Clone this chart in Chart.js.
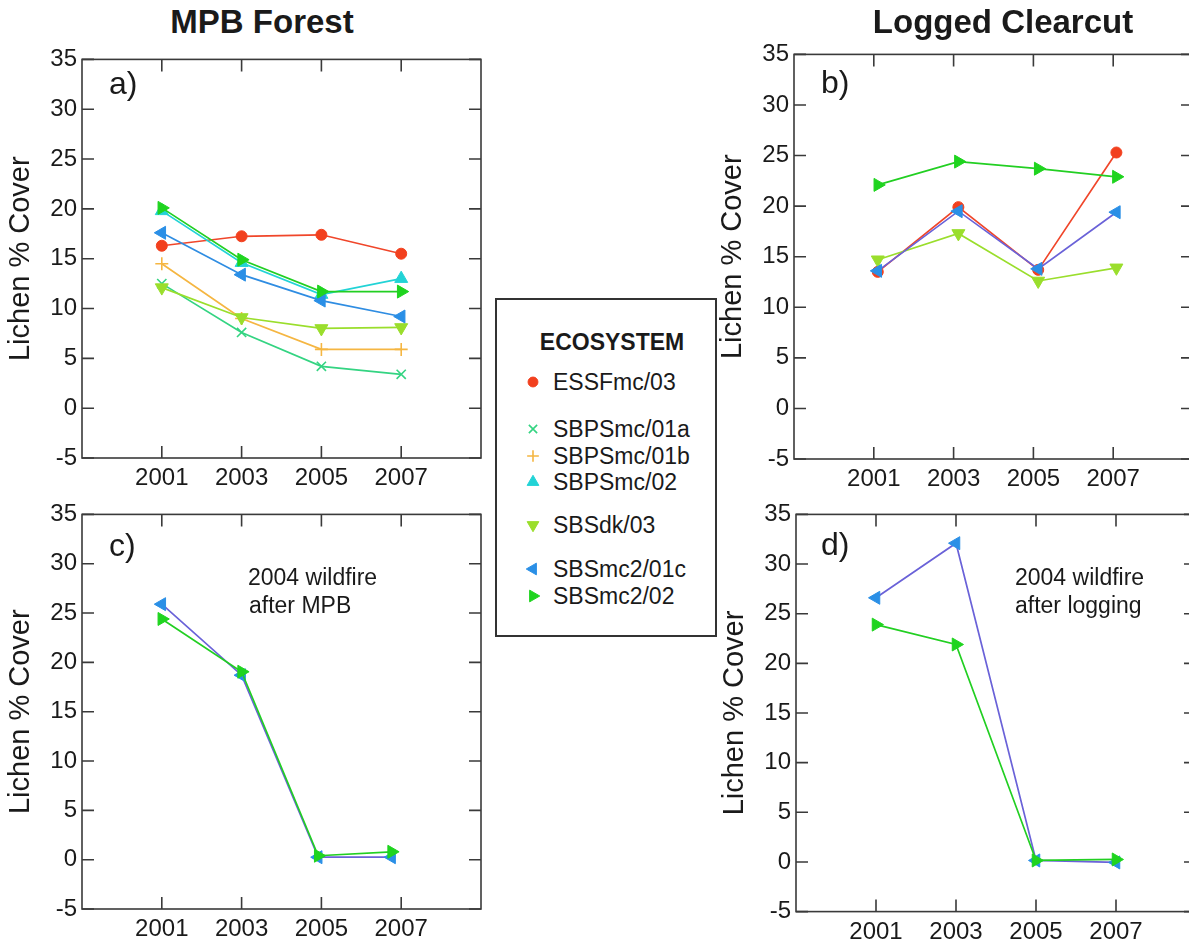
<!DOCTYPE html>
<html>
<head>
<meta charset="utf-8">
<script src="https://cdn.jsdelivr.net/npm/chart.js@4.4.1/dist/chart.umd.min.js"></script>
<style>
html,body{margin:0;padding:0;background:#fff;overflow:hidden;width:1189px;height:947px;}
body{position:relative;font-family:"Liberation Sans",Arial,Helvetica,sans-serif;color:#1a1a1a;}
canvas{position:absolute;}
.t{position:absolute;white-space:nowrap;line-height:1;}
#legend{position:absolute;left:495px;top:298px;width:218px;height:335px;border:2px solid #333;background:#fff;}
</style>
</head>
<body>
<canvas id="cA" width="500" height="470" style="left:0;top:40px"></canvas>
<canvas id="cB" width="500" height="475" style="left:712px;top:35px"></canvas>
<canvas id="cC" width="500" height="452" style="left:0;top:495px"></canvas>
<canvas id="cD" width="500" height="452" style="left:714px;top:495px"></canvas>
<div id="legend"></div>
<script>
// ---------------- DATA ----------------
const tickYears = [2001, 2003, 2005, 2007];
const yTickStep = 5;
const yMin = -5, yMax = 35;

// Panel a) MPB Forest
const yearsA = [2001, 2003, 2005, 2007];
const a_ESSFmc03   = [16.3, 17.25, 17.4, 15.5];
const a_SBPSmc01a  = [12.5, 7.6, 4.2, 3.4];
const a_SBPSmc01b  = [14.5, 9.0, 5.9, 5.9];
const a_SBPSmc02   = [19.8, 14.6, 11.4, 13.0];
const a_SBSdk03    = [12.1, 9.1, 8.0, 8.1];
const a_SBSmc201c  = [17.6, 13.4, 10.8, 9.2];
const a_SBSmc202   = [20.1, 14.9, 11.7, 11.7];

// Panel b) Logged Clearcut
const yearsB = [2001.1, 2003.12, 2005.12, 2007.08];
const b_ESSFmc03   = [13.5, 19.9, 13.7, 25.3];
const b_SBSdk03    = [14.7, 17.3, 12.6, 13.9];
const b_SBSmc201c  = [13.6, 19.5, 13.8, 19.4];
const b_SBSmc202   = [22.1, 24.4, 23.7, 22.9];

// Panel c) 2004 wildfire after MPB
const yearsC = [2001, 2003, 2004.92, 2006.76];
const c_SBSmc201c  = [25.9, 18.7, 0.25, 0.25];
const c_SBSmc202   = [24.4, 19.05, 0.4, 0.8];

// Panel d) 2004 wildfire after logging
const yearsD = [2001, 2003, 2005, 2007];
const d_SBSmc201c  = [26.6, 32.1, 0.15, -0.05];
const d_SBSmc202   = [23.9, 21.9, 0.15, 0.25];

const legendNames = ['ESSFmc/03','SBPSmc/01a','SBPSmc/01b','SBPSmc/02','SBSdk/03','SBSmc2/01c','SBSmc2/02'];

// ---------------- STYLES ----------------
const FONT = '"Liberation Sans", Arial, Helvetica, sans-serif';
const styles = {
  'ESSFmc/03':  {color:'#f2401e', line:'#f0462a', ps:'circle',   rot:0,   r:5.5, bw:1},
  'SBPSmc/01a': {color:'#34d482', line:'#34d482', ps:'crossRot', rot:0,   r:6.5, bw:1.6},
  'SBPSmc/01b': {color:'#f5b642', line:'#f5b642', ps:'cross',    rot:0,   r:6.5, bw:1.6},
  'SBPSmc/02':  {color:'#22d3d6', line:'#22d3d6', ps:'triangle', rot:0,   r:7.5, bw:1},
  'SBSdk/03':   {color:'#9ade2c', line:'#9ade2c', ps:'triangle', rot:180, r:7.5, bw:1},
  'SBSmc2/01c': {color:'#2a8fe6', line:'#2f8de2', ps:'triangle', rot:270, r:7.5, bw:1},
  'SBSmc2/02':  {color:'#1fd41f', line:'#22cf22', ps:'triangle', rot:90,  r:7.5, bw:1}
};

function ds(name, xs, ys, lineOverride) {
  const s = styles[name];
  const idx = legendNames.indexOf(name);
  return {
    label: name,
    data: xs.map((x, i) => ({x: x, y: ys[i]})),
    borderColor: lineOverride || s.line,
    backgroundColor: s.color,
    borderWidth: 1.7,
    pointStyle: s.ps,
    pointRotation: s.rot,
    pointRadius: s.r,
    pointBorderWidth: s.bw,
    pointBorderColor: s.color,
    pointBackgroundColor: s.color,
    tension: 0,
    fill: false,
    order: legendNames.length - idx
  };
}

const frameTicks = {
  id: 'frameTicks',
  beforeDatasetsDraw(chart) {
    const {ctx, chartArea: a, scales} = chart;
    const L = 12;
    ctx.save();
    ctx.strokeStyle = '#3a3a3a';
    ctx.lineWidth = 1.6;
    ctx.strokeRect(a.left, a.top, a.right - a.left, a.bottom - a.top);
    ctx.beginPath();
    scales.y.ticks.forEach(t => {
      const py = scales.y.getPixelForValue(t.value);
      ctx.moveTo(a.left, py); ctx.lineTo(a.left + L, py);
      ctx.moveTo(a.right, py); ctx.lineTo(a.right - L, py);
    });
    scales.x.ticks.forEach(t => {
      const px = scales.x.getPixelForValue(t.value);
      ctx.moveTo(px, a.top); ctx.lineTo(px, a.top + L);
      ctx.moveTo(px, a.bottom); ctx.lineTo(px, a.bottom - L);
    });
    ctx.stroke();
    ctx.restore();
  }
};

function makeChart(id, datasets, cfg) {
  return new Chart(document.getElementById(id), {
    type: 'line',
    data: {datasets: datasets},
    options: {
      responsive: false,
      animation: false,
      devicePixelRatio: 1,
      layout: {padding: {top: cfg.padTop, right: cfg.padRight, left: 0, bottom: 0}},
      plugins: {legend: {display: false}, tooltip: {enabled: false}},
      scales: {
        x: {
          type: 'linear', min: 1999, max: 2009,
          afterBuildTicks: s => { s.ticks = tickYears.map(v => ({value: v})); },
          afterFit: s => { s.height = cfg.xH; },
          grid: {display: false, drawTicks: false, tickLength: 0},
          border: {display: false},
          ticks: {autoSkip: false, maxRotation: 0, padding: 6, color: '#1a1a1a',
                  font: {size: 24, family: FONT}, callback: v => String(v)}
        },
        y: {
          min: yMin, max: yMax,
          afterFit: s => { s.width = cfg.yW; },
          grid: {display: false, drawTicks: false, tickLength: 0},
          border: {display: false},
          ticks: {stepSize: yTickStep, padding: 5, color: '#1a1a1a', font: {size: 24, family: FONT}},
          title: {display: true, text: 'Lichen % Cover', color: '#1a1a1a',
                  font: {size: 29, family: FONT}, padding: {top: 4, bottom: 0}}
        }
      }
    },
    plugins: [frameTicks]
  });
}

const purple = '#6a62d8';

makeChart('cA', [
  ds('ESSFmc/03', yearsA, a_ESSFmc03),
  ds('SBPSmc/01a', yearsA, a_SBPSmc01a),
  ds('SBPSmc/01b', yearsA, a_SBPSmc01b),
  ds('SBPSmc/02', yearsA, a_SBPSmc02),
  ds('SBSdk/03', yearsA, a_SBSdk03),
  ds('SBSmc2/01c', yearsA, a_SBSmc201c),
  ds('SBSmc2/02', yearsA, a_SBSmc202)
], {padTop: 18, padRight: 19, yW: 82, xH: 52});

makeChart('cB', [
  ds('ESSFmc/03', yearsB, b_ESSFmc03),
  ds('SBSdk/03', yearsB, b_SBSdk03),
  ds('SBSmc2/01c', yearsB, b_SBSmc201c, purple),
  ds('SBSmc2/02', yearsB, b_SBSmc202)
], {padTop: 18, padRight: 19, yW: 82, xH: 51});

makeChart('cC', [
  ds('SBSmc2/01c', yearsC, c_SBSmc201c, purple),
  ds('SBSmc2/02', yearsC, c_SBSmc202)
], {padTop: 17.5, padRight: 19, yW: 82, xH: 38});

makeChart('cD', [
  ds('SBSmc2/01c', yearsD, d_SBSmc201c, purple),
  ds('SBSmc2/02', yearsD, d_SBSmc202)
], {padTop: 17.5, padRight: 18, yW: 82, xH: 35.4});

// ---------------- TEXT ----------------
function place(parent, text, x, baseline, size, bold, align) {
  const d = document.createElement('div');
  d.className = 't';
  d.textContent = text;
  d.style.fontSize = size + 'px';
  if (bold) d.style.fontWeight = 'bold';
  d.style.top = (baseline - 0.8465 * size) + 'px';
  d.style.left = x + 'px';
  if (align === 'center') d.style.transform = 'translateX(-50%)';
  parent.appendChild(d);
  return d;
}
const body = document.body;
place(body, 'MPB Forest', 262, 33, 33, true, 'center');
place(body, 'Logged Clearcut', 1003, 33, 33, true, 'center');
place(body, 'a)', 109, 94, 32, false);
place(body, 'b)', 821, 93, 32, false);
place(body, 'c)', 109, 556, 32, false);
place(body, 'd)', 821, 555, 32, false);
place(body, '2004 wildfire', 248, 585, 23, false);
place(body, 'after MPB', 249, 613, 23, false);
place(body, '2004 wildfire', 1015, 585, 23, false);
place(body, 'after logging', 1015, 613, 23, false);

// ---------------- LEGEND ----------------
const legend = document.getElementById('legend');
const LX = 497, LY = 300; // inner origin of legend box
place(legend, 'ECOSYSTEM', 612 - LX, 350 - LY, 23, true, 'center');
const legendBaselines = [390, 437, 464, 490, 533, 577, 604];
legendNames.forEach((name, i) => {
  const base = legendBaselines[i];
  place(legend, name, 553 - LX, base - LY, 23, false);
  const c = document.createElement('canvas');
  c.width = 20; c.height = 20;
  c.style.left = (533 - LX - 10) + 'px';
  c.style.top = (base - 8 - LY - 10) + 'px';
  legend.appendChild(c);
  const ctx = c.getContext('2d');
  const s = styles[name];
  ctx.fillStyle = s.color; ctx.strokeStyle = s.color; ctx.lineWidth = s.bw;
  const opts = {pointStyle: s.ps, rotation: s.rot, radius: s.r * 0.9, borderWidth: s.bw};
  if (Chart.helpers && Chart.helpers.drawPoint) {
    Chart.helpers.drawPoint(ctx, opts, 10, 10);
  }
});
</script>
</body>
</html>
